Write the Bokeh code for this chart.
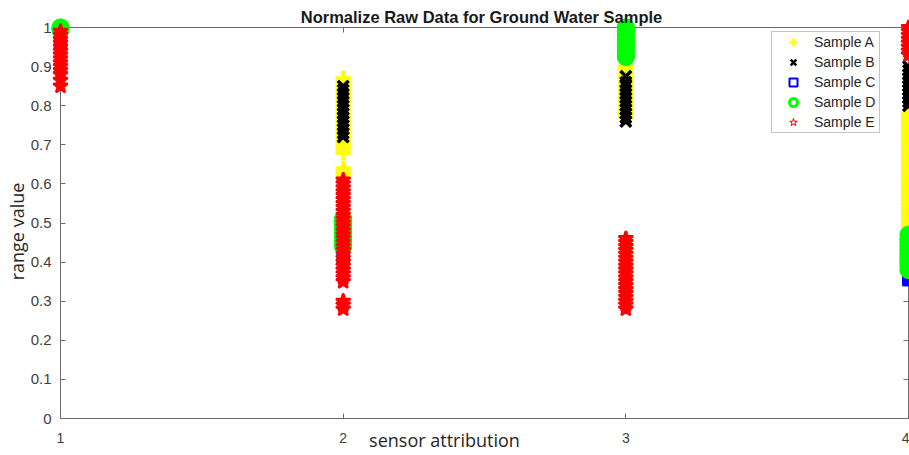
import math
from bokeh.plotting import figure
from bokeh.models import (ColumnDataSource, FixedTicker, LinearAxis, Range1d,
                          Legend, LegendItem, Label)
from bokeh.embed import file_html
from bokeh.resources import INLINE

# ---------------- data ----------------
attributes = [1, 2, 3, 4]
x_tick_labels = ["1", "2", "3", "4"]
y_ticks = [0, 0.1, 0.2, 0.3, 0.4, 0.5, 0.6, 0.7, 0.8, 0.9, 1]
y_tick_labels = ["0", "0.1", "0.2", "0.3", "0.4", "0.5", "0.6", "0.7", "0.8", "0.9", "1"]

sample_names = ["Sample A", "Sample B", "Sample C", "Sample D", "Sample E"]

# Sample A (values at attribute 1, 2, 3, 4)
a1 = [1.00, 0.99, 0.98, 0.97, 0.96, 0.95, 0.94, 0.93]
a2 = [0.87, 0.86, 0.85, 0.84, 0.83, 0.82, 0.81, 0.80, 0.79, 0.78, 0.77, 0.76,
      0.75, 0.74, 0.73, 0.72, 0.71, 0.70, 0.69, 0.68, 0.64, 0.63, 0.62]
a3 = [0.90, 0.89, 0.88, 0.87, 0.86, 0.85, 0.84, 0.83, 0.82, 0.81, 0.80, 0.79,
      0.78, 0.77]
a4 = [0.78, 0.77, 0.76, 0.75, 0.74, 0.73, 0.72, 0.71, 0.70, 0.69, 0.68, 0.67,
      0.66, 0.65, 0.64, 0.63, 0.62, 0.61, 0.60, 0.59, 0.58, 0.57, 0.56, 0.55,
      0.54, 0.53, 0.52, 0.51, 0.50, 0.49, 0.48, 0.47, 0.46, 0.45, 0.44, 0.43,
      0.42, 0.41, 0.40, 0.39, 0.38, 0.37]

# Sample B
b1 = [0.99, 0.98, 0.97, 0.96]
b2 = [0.85, 0.84, 0.83, 0.82, 0.81, 0.80, 0.79, 0.78, 0.77, 0.76, 0.75, 0.74,
      0.73, 0.72]
b3 = [0.875, 0.86, 0.85, 0.84, 0.83, 0.82, 0.81, 0.80, 0.79, 0.78, 0.77, 0.76]
b4 = [0.90, 0.89, 0.88, 0.87, 0.86, 0.85, 0.84, 0.83, 0.82, 0.81, 0.80]

# Sample C
c1 = [1.00]
c2 = [0.41]
c3 = [0.98]
c4 = [0.355]

# Sample D
d1 = [1.00, 0.995]
d2 = [0.51, 0.50, 0.49, 0.48, 0.47, 0.46, 0.45, 0.44]
d3 = [1.00, 0.99, 0.98, 0.97, 0.96, 0.95, 0.94, 0.93, 0.925]
d4 = [0.47, 0.46, 0.45, 0.44, 0.43, 0.42, 0.41, 0.40, 0.39, 0.38]

# Sample E
e1 = [0.99, 0.98, 0.97, 0.96, 0.95, 0.94, 0.93, 0.92, 0.91, 0.90, 0.89, 0.88,
      0.865, 0.85]
e2 = [0.61, 0.60, 0.59, 0.58, 0.57, 0.56, 0.55, 0.54, 0.53, 0.52, 0.51, 0.50,
      0.49, 0.48, 0.47, 0.46, 0.45, 0.44, 0.43, 0.42, 0.41, 0.40, 0.39, 0.38,
      0.37, 0.36, 0.35, 0.30, 0.29, 0.28]
e3 = [0.46, 0.45, 0.44, 0.43, 0.42, 0.41, 0.40, 0.39, 0.38, 0.37, 0.36, 0.35,
      0.34, 0.33, 0.32, 0.31, 0.30, 0.29, 0.28]
e4 = [1.00, 0.99, 0.98, 0.97, 0.96, 0.95, 0.94, 0.93]

sample_values = [[a1, a2, a3, a4], [b1, b2, b3, b4], [c1, c2, c3, c4],
                 [d1, d2, d3, d4], [e1, e2, e3, e4]]


def make_source(per_attr):
    xs, ys = [], []
    for a, vals in zip(attributes, per_attr):
        xs += [a] * len(vals)
        ys += vals
    return ColumnDataSource(dict(x=xs, y=ys))


# ---------------- figure ----------------
AXIS_COLOR = "#6b6b6b"
TICK_TEXT = "#404040"
DARK = "#262626"

W, H = 909, 455
# the plotting frame fills the canvas; axes sit at the data box edges
p = figure(width=W, height=H, output_backend="svg", toolbar_location=None,
           x_range=Range1d(0.7877, 4.0035), y_range=Range1d(-0.0946, 1.0691),
           min_border=0, min_border_left=0, min_border_right=0,
           min_border_top=0, min_border_bottom=0,
           background_fill_color="white", border_fill_color="white")
p.xgrid.visible = False
p.ygrid.visible = False
p.outline_line_color = None


def style_axis(ax, ticks, overrides, font_size, standoff, show_labels=True):
    ax.ticker = FixedTicker(ticks=ticks)
    ax.major_label_overrides = overrides
    ax.major_tick_in = 5
    ax.major_tick_out = 0
    ax.minor_tick_line_color = None
    ax.axis_line_color = AXIS_COLOR
    ax.major_tick_line_color = AXIS_COLOR
    ax.major_label_text_font = "Liberation Sans"
    ax.major_label_text_font_size = font_size
    ax.major_label_standoff = standoff
    ax.major_label_text_color = TICK_TEXT if show_labels else None
    ax.level = "underlay"


x_over = {t: l for t, l in zip(attributes, x_tick_labels)}
y_over = {t: l for t, l in zip(y_ticks, y_tick_labels)}

xa = p.xaxis[0]
style_axis(xa, attributes, x_over, "14px", 14)
xa.fixed_location = 0
xa.bounds = (1, 4)

ya = p.yaxis[0]
style_axis(ya, y_ticks, y_over, "15px", 9)
ya.fixed_location = 1
ya.bounds = (0, 1)

top_axis = LinearAxis()
style_axis(top_axis, attributes, x_over, "14px", 0, show_labels=False)
top_axis.fixed_location = 1
top_axis.bounds = (1, 4)
p.add_layout(top_axis, "above")

right_axis = LinearAxis()
style_axis(right_axis, y_ticks, y_over, "15px", 0, show_labels=False)
right_axis.fixed_location = 4
right_axis.bounds = (0, 1)
p.add_layout(right_axis, "right")

# texts
p.add_layout(Label(x=481, y=439, x_units="screen", y_units="screen",
                   text="Normalize Raw Data for Ground Water Sample",
                   text_align="center", text_baseline="alphabetic",
                   text_font="Liberation Sans", text_font_size="16.5px",
                   text_font_style="bold", text_color="#1a1a1a"))
p.add_layout(Label(x=444, y=16, x_units="screen", y_units="screen",
                   text="sensor attribution", text_align="center",
                   text_baseline="alphabetic", text_font="Open Sans",
                   text_font_size="18px", text_color=DARK))
p.add_layout(Label(x=16, y=224, x_units="screen", y_units="screen",
                   text="range value", text_align="center",
                   text_baseline="alphabetic", angle=math.pi / 2,
                   text_font="Open Sans", text_font_size="18px",
                   text_color=DARK))

# ---------------- data glyphs ----------------
srcA, srcB, srcC, srcD, srcE = [make_source(v) for v in sample_values]

# thinner proxies give the legend its look; the dense marks cover them
pA = p.scatter("x", "y", source=srcA, marker="cross", size=15,
               line_color="#FFFF00", line_width=2.5)
rA = p.scatter("x", "y", source=srcA, marker="cross", size=15,
               line_color="#FFFF00", line_width=4)
pB = p.scatter("x", "y", source=srcB, marker="x", size=15,
               line_color="#000000", line_width=2.5)
rB = p.scatter("x", "y", source=srcB, marker="x", size=15,
               line_color="#000000", line_width=3.5)
pC = p.scatter("x", "y", source=srcC, marker="square", size=11,
               line_color="#0000FF", line_width=2, fill_color=None)
rC = p.scatter("x", "y", source=srcC, marker="square", size=11,
               line_color="#0000FF", line_width=2, fill_color="#0000FF")
pD = p.scatter("x", "y", source=srcD, marker="circle", size=15,
               line_color="#00FF00", line_width=3, fill_color=None)
rD = p.scatter("x", "y", source=srcD, marker="circle", size=15,
               line_color="#00FF00", line_width=3, fill_color="#00FF00")
pE = p.scatter("x", "y", source=srcE, marker="star", size=15,
               line_color="#FF0000", line_width=1, fill_color=None)
rE = p.scatter("x", "y", source=srcE, marker="star", size=15,
               line_color="#FF0000", line_width=2.5, fill_color="#FF0000")

legend = Legend(items=[LegendItem(label=n, renderers=[r]) for n, r in
                       zip(sample_names, [pA, pB, pC, pD, pE])],
                location=(771, 322), margin=0, padding=0, spacing=0,
                glyph_width=42, glyph_height=20, label_height=20,
                label_width=65, label_standoff=0,
                label_text_font="Liberation Sans", label_text_font_size="14px",
                label_text_color=DARK, border_line_color="#8c8c8c",
                border_line_width=1, background_fill_color="white",
                background_fill_alpha=1.0)
p.add_layout(legend)

open("out.html", "w").write(file_html(p, INLINE))
